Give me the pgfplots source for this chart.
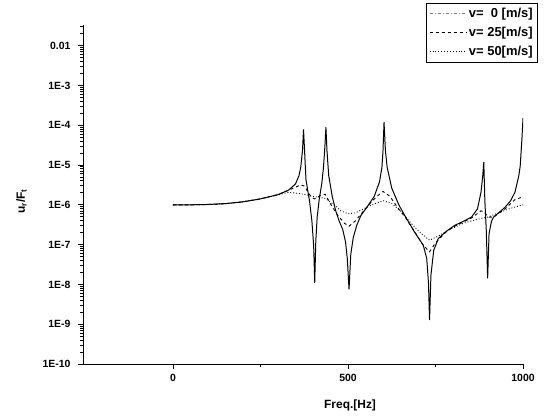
\documentclass[border=0pt]{standalone}
\usepackage{pgfplots}
\pgfplotsset{compat=1.18}
\usepackage{fontspec}
\setmainfont{Liberation Sans}
\begin{document}
\begin{tikzpicture}
\path[use as bounding box] (-83bp,-56bp) rectangle (463bp,364bp);
\begin{axis}[
  at={(0,0)}, anchor=south west,
  scale only axis, width=440bp, height=339bp,
  axis lines=left, axis line style={-, line width=0.9pt},
  ymode=log, xmin=-257, xmax=1000, ymin=1e-10, ymax=0.033,
  xtick={0,500,1000}, xticklabels={0,500,1000}, minor xtick={250,750},
  ytick={1e-10,1e-9,1e-8,1e-7,1e-6,1e-5,1e-4,1e-3,1e-2},
  yticklabels={1E-10,1E-9,1E-8,1E-7,1E-6,1E-5,1E-4,1E-3,0.01},
  minor ytick={2e-10,3e-10,4e-10,5e-10,6e-10,7e-10,8e-10,9e-10,
    2e-9,3e-9,4e-9,5e-9,6e-9,7e-9,8e-9,9e-9,
    2e-8,3e-8,4e-8,5e-8,6e-8,7e-8,8e-8,9e-8,
    2e-7,3e-7,4e-7,5e-7,6e-7,7e-7,8e-7,9e-7,
    2e-6,3e-6,4e-6,5e-6,6e-6,7e-6,8e-6,9e-6,
    2e-5,3e-5,4e-5,5e-5,6e-5,7e-5,8e-5,9e-5,
    2e-4,3e-4,4e-4,5e-4,6e-4,7e-4,8e-4,9e-4,
    2e-3,3e-3,4e-3,5e-3,6e-3,7e-3,8e-3,9e-3,
    2e-2,3e-2},
  tick align=outside, major tick length=5bp, minor tick length=3bp,
  every tick/.style={black, line width=0.8pt},
  tick label style={font=\bfseries\fontsize{10.5}{12}\selectfont},
  yticklabel style={xshift=-4bp},
  xticklabel style={yshift=-2bp},
  xlabel={Freq.[Hz]}, ylabel={u\textsubscript{r}/F\textsubscript{t}},
  label style={font=\bfseries\fontsize{12}{14}\selectfont},
  xlabel style={at={(axis description cs:0.607,-0.121)}, anchor=center},
  ylabel style={at={(axis description cs:-0.14,0.48)}, anchor=center},
  legend style={at={(1.034,1.065)}, anchor=north east, draw=black, line width=0.6pt,
    font=\bfseries\fontsize{13}{15}\selectfont, row sep=4pt, inner sep=3pt},
  legend cell align=left,
]
\addplot[black, line width=1pt,
  legend image code/.code={\draw[gray, dash dot, line width=0.7pt] (0cm,0cm) -- (1.3cm,0cm);}]
coordinates {
(0,1.0e-6)(50,1.0e-6)(100,1.02e-6)(150,1.07e-6)(200,1.19e-6)(250,1.41e-6)(300,1.80e-6)
(330,2.33e-6)(350,3.34e-6)(360,5.40e-6)(365,8.7e-6)(370,2.27e-5)(373,7.9e-5)(376,2.27e-5)
(380,4.25e-6)(390,1.28e-6)(397,3.87e-7)(402,9.2e-8)(405,1.1e-8)(408,1.17e-7)(412,4.92e-7)
(418,1.41e-6)(425,3.34e-6)(430,8.7e-6)(434,2.88e-5)(437,8.9e-5)(440,2.27e-5)(445,5.40e-6)
(455,1.63e-6)(465,7.05e-7)(475,3.87e-7)(485,2.40e-7)(493,1.17e-7)(498,4.49e-8)(503,7.5e-9)
(508,5.7e-8)(515,1.49e-7)(525,3.05e-7)(537,5.42e-7)(555,8.95e-7)(575,1.63e-6)(590,3.77e-6)
(597,8.7e-6)(600,2.27e-5)(603,1.19e-4)(607,2.27e-5)(612,8.7e-6)(625,2.63e-6)(645,1.01e-6)
(662,5.42e-7)(690,2.08e-7)(715,9.66e-8)(725,4.49e-8)(730,1.07e-8)(733,1.26e-9)(737,1.72e-8)
(745,7.24e-8)(758,1.42e-7)(780,2.13e-7)(805,3.05e-7)(830,3.87e-7)(853,4.92e-7)(870,7.94e-7)
(880,2.07e-6)(885,5.40e-6)(888,1.19e-5)(891,1.28e-6)(895,2.40e-7)(899,1.41e-8)(903,1.89e-7)
(910,3.87e-7)(916,4.92e-7)(930,6.25e-7)(949,8.75e-7)(965,1.28e-6)(977,2.07e-6)(988,5.40e-6)
(992,9.35e-6)(997,4.66e-5)(1000,1.50e-4)
};
\addlegendentry{v=\ \ 0 [m/s]}
\addplot[black, dashed, line width=0.9pt,
  legend image code/.code={\draw[black, dashed, line width=0.9pt] (0cm,0cm) -- (1.3cm,0cm);}]
coordinates {
(0,1.0e-6)(50,1.0e-6)(100,1.02e-6)(150,1.07e-6)(200,1.19e-6)(250,1.41e-6)(300,1.80e-6)
(330,2.33e-6)(350,2.76e-6)(365,3.18e-6)(375,2.96e-6)(385,2.17e-6)(395,1.55e-6)(405,1.41e-6)
(420,1.71e-6)(435,1.84e-6)(450,1.06e-6)(470,5.55e-7)(490,3.44e-7)(503,2.90e-7)(520,3.87e-7)
(540,6.25e-7)(560,1.01e-6)(580,1.55e-6)(600,2.17e-6)(620,1.63e-6)(640,8.95e-7)(665,4.69e-7)
(690,2.13e-7)(715,9.66e-8)(733,6.58e-8)(750,1.11e-7)(780,2.08e-7)(805,2.90e-7)(853,4.69e-7)
(880,7.05e-7)(890,6.56e-7)(900,4.92e-7)(916,4.92e-7)(949,7.94e-7)(977,1.35e-6)(1000,1.58e-6)
};
\addlegendentry{v= 25[m/s]}
\addplot[black, dotted, line width=0.9pt,
  legend image code/.code={\draw[black, dotted, line width=0.9pt] (0cm,0cm) -- (1.3cm,0cm);}]
coordinates {
(0,1.0e-6)(50,1.0e-6)(100,1.02e-6)(150,1.07e-6)(200,1.19e-6)(250,1.41e-6)(300,1.78e-6)
(330,2.07e-6)(350,1.97e-6)(375,1.84e-6)(400,1.63e-6)(435,1.45e-6)(460,1.01e-6)(480,7.05e-7)
(500,5.96e-7)(520,6.25e-7)(545,7.94e-7)(570,1.01e-6)(600,1.28e-6)(625,1.08e-6)(650,7.05e-7)
(680,3.44e-7)(710,1.89e-7)(733,1.29e-7)(760,1.67e-7)(790,2.40e-7)(830,3.44e-7)(870,4.37e-7)
(900,4.92e-7)(930,6.25e-7)(960,7.94e-7)(1000,1.0e-6)
};
\addlegendentry{v= 50[m/s]}
\end{axis}
\end{tikzpicture}
\end{document}
